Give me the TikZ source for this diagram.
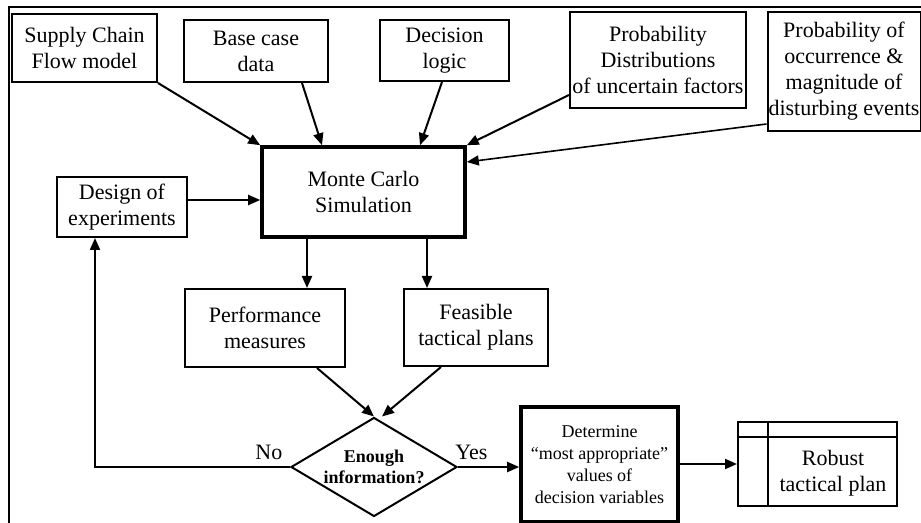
\documentclass[tikz,border=0pt]{standalone}
\usepackage{fontspec}
\setmainfont{Liberation Serif}
\usetikzlibrary{arrows.meta,shapes.geometric}

\begin{document}
\begin{tikzpicture}[x=0.5pt,y=-0.5pt,
		font=\fontsize{11}{13}\selectfont,
		box/.style={draw, line width=1pt, align=center, inner sep=1pt},
		bigbox/.style={box, line width=1.8pt},
		>={Triangle[length=6pt,width=5pt]}]
		\useasboundingbox (0,0) rectangle (921,523);
		\clip (0,0) rectangle (921,523);
		\draw[line width=1.2pt] (9,7) rectangle (940,540);
		
		% inputs
		\node[box, minimum width=72.5pt, minimum height=34pt] (scm) at (84.5,48) {Supply Chain\\Flow model};
		\node[box, minimum width=72pt, minimum height=31pt] (base) at (256,51) {Base case\\data};
		\node[box, minimum width=64.5pt, minimum height=30.5pt] (logic) at (444.5,50.5) {Decision\\logic};
		\node[box, minimum width=88pt, minimum height=48pt] (dist) at (658,60) {Probability\\Distributions\\of uncertain factors};
		\node[box, inner sep=0.4pt, minimum width=76.5pt, minimum height=59.5pt] (events) at (844,71.5) {Probability of\\occurrence \&\\magnitude of\\disturbing events};
		
		\node[bigbox, minimum width=101.5pt, minimum height=45pt] (mc) at (363.5,192) {Monte Carlo\\Simulation};
		\node[box, minimum width=65pt, minimum height=30pt] (doe) at (122,207) {Design of\\experiments};
		
		\node[box, minimum width=80pt, minimum height=39pt] (perf) at (265,328) {Performance\\measures};
		\node[box, minimum width=72pt, minimum height=38.5pt] (feas) at (476,327.5) {Feasible\\tactical plans};
		
		\node[draw, line width=1pt, diamond, aspect=1.68, inner sep=0pt, minimum width=83pt, minimum height=49.5pt, align=center,
			font=\fontsize{9}{10.5}\selectfont\bfseries] (dec) at (374,467) {Enough\\information?};
		\node[bigbox, minimum width=78.5pt, minimum height=57.5pt, font=\fontsize{9}{11}\selectfont] (det) at (599.5,464.5)
			{Determine\\``most appropriate''\\values of\\decision variables};
		\node[box, minimum width=79.5pt, minimum height=42pt,
			label={[align=center, xshift=7.75pt, yshift=-4.5pt]center:Robust\\tactical plan}] (robust) at (817.5,464) {};
		\draw[line width=1pt] ([xshift=15.5pt]robust.north west) -- ([xshift=15.5pt]robust.south west);
		\draw[line width=1pt] ([yshift=-8pt]robust.north west) -- ([yshift=-8pt]robust.north east);
		
		% connectors
		\coordinate (m1) at ([xshift=-28.25pt]mc.south);
		\coordinate (m2) at ([xshift=31.75pt]mc.south);
		\coordinate (d1) at ([yshift=3.5pt]doe.east);
		\coordinate (loop) at ([xshift=-13.5pt]doe.south);
		
		\draw[line width=1pt, ->] (scm.south east) -- (mc.north west);
		\draw[line width=1pt, ->] ([xshift=23pt]base.south) -- ([xshift=-20.75pt]mc.north);
		\draw[line width=1pt, ->] ([xshift=-1.25pt]logic.south) -- ([xshift=28.25pt]mc.north);
		\draw[line width=1pt, ->] ([yshift=7pt]dist.south west) -- (mc.north east);
		\draw[line width=0.8pt, ->] ([yshift=4pt]events.south west) -- ([yshift=15pt]mc.east);
		\draw[line width=1pt, ->] (d1) -- (d1 -| mc.west);
		
		\draw[line width=1pt, ->] (m1) -- (m1 |- perf.north);
		\draw[line width=1pt, ->] (m2) -- (m2 |- feas.north);
		\draw[line width=1pt, ->] ([xshift=26pt]perf.south) -- (dec.north);
		\draw[line width=1pt, ->] ([xshift=-17.5pt]feas.south) -- ([xshift=4pt]dec.north);
		
		\draw[line width=1pt, ->] (dec.west) node[above left] {No} -| (loop);
		\draw[line width=1pt, ->] (dec.east) -- node[above, pos=0.22] {Yes} (dec.east -| det.west);
		\draw[line width=1pt, ->] (det.east |- robust.west) -- (robust.west);

	\end{tikzpicture}
\end{document}
